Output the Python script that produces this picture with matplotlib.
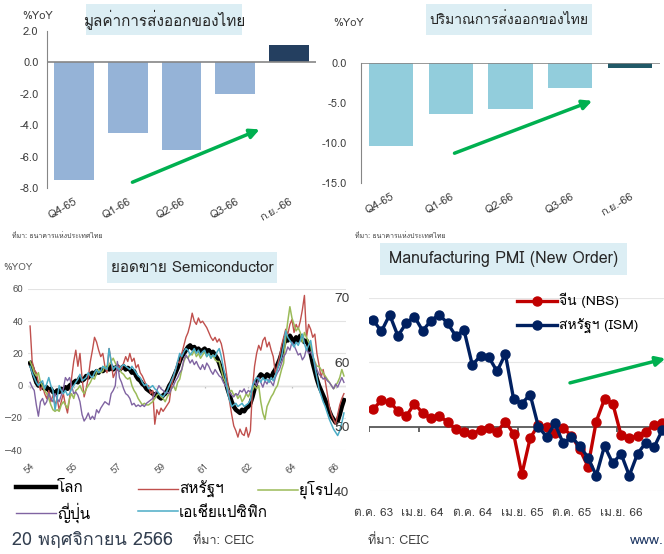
import matplotlib
matplotlib.use("Agg")
import matplotlib.pyplot as plt
from matplotlib.patches import Rectangle
import numpy as np

plt.rcParams['font.family'] = ['Loma', 'DejaVu Sans']

# ---- top panels: Thai exports ----
quarters = ["Q4-65", "Q1-66", "Q2-66", "Q3-66", "ก.ย.-66"]
export_value = [-7.5, -4.5, -5.6, -2.0, 1.1]
export_volume = [-10.4, -6.4, -5.8, -3.1, -0.6]

# ---- semiconductor sales %YoY, monthly from 2554 ----
semi_ticks = [0, 21, 42, 63, 84, 105, 126, 147]
semi_tick_labels = ["54", "55", "57", "59", "61", "62", "64", "66"]
world = [14, 11, 6, 2, 0, 1, -1, -2, -1, -3, -2, -4,
         -5, -3, -4, -2, -3, -1, -2, 0, 1, 2, 3, 2,
         5, 3, 4, 6, 5, 7, 8, 7, 9, 8, 10, 9,
         10, 11, 10, 12, 10, 11, 12, 10, 11, 12, 10, 11,
         10, 8, 9, 6, 4, 3, 1, 0, -2, -3, -4, -5,
         -6, -5, -7, -8, -6, -5, -3, 0, 2, 5, 8, 11,
         15, 18, 20, 22, 24, 25, 23, 24, 22, 23, 21, 22,
         23, 21, 22, 20, 21, 19, 17, 14, 10, 7, 3, -2,
         -6, -10, -13, -15, -16, -17, -15, -16, -14, -13, -11, -7,
         -2, 3, 5, 7, 6, 5, 7, 6, 5, 8, 10, 13,
         16, 20, 25, 30, 28, 31, 29, 27, 30, 28, 31, 29,
         27, 28, 25, 20, 14, 9, 4, 0, -3, -6, -9, -12,
         -16, -19, -21, -23, -22, -18, -13, -9]
usa = [37, 15, 10, 8, 2, -3, 0, -5, -8, -3, -10, -6,
       -12, -8, -15, -10, -5, -12, -17, -8, 5, 15, 22, 12,
       20, 5, -7, -2, 5, 15, 22, 30, 27, 22, 18, 20,
       12, 8, 23, 15, 5, 8, 10, 12, 10, 14, 18, 15,
       20, 15, 17, 11, 13, 8, 6, 3, 0, 0, -5, -3,
       -24, -15, -18, -14, -16, -14, -12, -10, 0, 5, 10, 15,
       14, 20, 25, 30, 33, 38, 45, 40, 38, 42, 39, 40,
       38, 36, 33, 30, 28, 30, 27, 29, 26, 20, 12, 3,
       -10, -18, -25, -28, -32, -27, -30, -31, -26, -32, -28, -2,
       12, 20, 25, 22, 28, 30, 24, 27, 22, 18, 8, 12,
       18, 25, 30, 35, 32, 38, 41, 33, 38, 35, 40, 47,
       56, 30, 38, 35, 30, 32, 20, 13, 5, 10, 3, -5,
       -13, -18, -21, -24, -18, -12, -8, -5]
europe = [15, 12, 8, 6, 8, 2, 0, -3, -5, -8, -12, -15,
          -16, -15, -16, -12, -10, -12, -14, -8, -5, -8, -3, -2,
          0, -3, -5, -2, 0, 2, 5, 4, 8, 10, 8, 9,
          12, 11, 13, 15, 17, 14, 12, 10, 8, 7, 5, 4,
          5, 0, -3, -5, -8, -10, -12, -11, -12, -12, -11, -10,
          -8, -6, -5, -7, -8, -10, -7, -5, -2, 0, -3, 2,
          4, 10, 15, 18, 17, 20, 19, 22, 18, 20, 17, 19,
          21, 18, 20, 17, 19, 16, 15, 15, 10, 5, 2, -1,
          -4, -3, -6, -5, -8, -6, -10, -8, -5, -7, -4, -3,
          0, -2, 0, -10, -17, -21, -13, -10, -7, -5, -2, 0,
          5, 10, 14, 30, 40, 49, 42, 38, 34, 36, 33, 27,
          33, 30, 27, 25, 18, 15, 12, 12, 10, 8, 6, 4,
          2, 0, -2, 0, 2, 5, 10, 6]
japan = [2, -1, -3, -12, -19, -10, -8, -12, -10, -5, -8, -10,
         -5, -8, -10, -6, -2, 5, 3, 5, 0, -5, -4, -6,
         -10, -18, -22, -20, -17, -21, -19, -21, -15, -17, -14, -12,
         -10, -11, -12, -5, -3, 0, 15, 5, 2, -2, -5, -6,
         -8, -12, -11, -13, -12, -13, -12, -13, -11, -10, -9, -8,
         -5, -3, 0, -2, -3, -5, -4, -5, -2, 0, 3, 5,
         8, 10, 16, 19, 17, 14, 16, 13, 15, 12, 10, 13,
         10, 14, 12, 9, 7, 10, 8, 6, 5, 2, 0, -2,
         -4, -6, -7, -5, -6, -3, -4, -2, -5, -3, -4, -1,
         3, 0, 5, 2, -1, 3, 1, 4, 2, 0, 5, 8,
         10, 14, 18, 20, 24, 22, 27, 25, 22, 19, 20, 16,
         18, 23, 20, 21, 18, 14, 10, 7, 6, 4, 5, 3,
         2, 0, -2, 1, -1, 2, 5, 2]
asia_pac = [12, 8, 5, 2, 0, 2, 3, -2, 1, 5, 0, -3,
            -15, -8, 0, -3, -5, -3, -6, -5, -2, 0, 2, 4,
            7, 3, 4, 5, 8, 6, 5, 8, 10, 8, 9, 12,
            11, 10, 23, 15, 10, 12, 11, 10, 12, 13, 12, 11,
            10, 12, 10, 8, 6, 5, 2, 0, 1, -2, -1, 0,
            -2, -3, -5, -6, -7, -5, -3, 0, 3, 6, 10, 15,
            20, 18, 21, 23, 22, 19, 21, 23, 20, 22, 19, 21,
            22, 18, 20, 17, 19, 18, 21, 23, 18, 11, 5, -4,
            -9, -13, -12, -11, -13, -12, -11, -13, -12, -11, -9, 0,
            3, 5, 4, 2, 5, 3, 4, 2, 5, 3, 6, 10,
            14, 18, 25, 34, 30, 28, 26, 24, 27, 25, 28, 32,
            26, 22, 25, 28, 20, 12, 5, -2, -6, -10, -13, -17,
            -21, -24, -27, -29, -31, -28, -23, -17]

# ---- Manufacturing PMI new orders, monthly from ต.ค. 63 ----
pmi_ticks = [0, 6, 12, 18, 24, 30]
pmi_tick_labels = ["ต.ค. 63", "เม.ย. 64", "ต.ค. 64", "เม.ย. 65", "ต.ค. 65", "เม.ย. 66"]
china_nbs = [52.7, 54.1, 53.8, 52.5, 51.6, 53.6, 52.1, 51.3, 51.6, 50.8, 49.6, 49.2,
             48.9, 49.5, 49.8, 49.2, 50.8, 48.9, 42.6, 48.2, 50.3, 50.0, 49.0, 49.8,
             48.6, 46.5, 43.8, 50.8, 54.3, 53.6, 48.7, 48.2, 48.6, 49.2, 50.3, 50.6]
us_ism = [66.6, 64.8, 67.4, 64.1, 66.1, 67.1, 64.9, 66.5, 67.4, 66.1, 64.1, 65.0,
          59.6, 61.0, 60.8, 58.6, 61.3, 54.3, 53.6, 55.0, 50.0, 48.4, 50.5, 47.4,
          48.4, 47.0, 45.2, 42.4, 47.0, 44.3, 45.8, 42.4, 45.8, 47.5, 46.8, 49.5]

W, H = 664, 554
def box(x0, y0, x1, y1):
    return [x0 / W, 1 - y1 / H, (x1 - x0) / W, (y1 - y0) / H]

fig = plt.figure(figsize=(6.64, 5.54), dpi=100)
grey_txt = '#404040'
arrow_kw = dict(arrowstyle='-|>', color='#00B050', lw=2.5, mutation_scale=14)

def title_box(x0, y0, x1, y1, text, size=11):
    fig.add_artist(Rectangle((x0 / W, 1 - y1 / H), (x1 - x0) / W, (y1 - y0) / H,
                             transform=fig.transFigure, facecolor='#DCEEF4', edgecolor='none'))
    fig.text((x0 + x1) / 2 / W, 1 - (y0 + y1) / 2 / H, text, ha='center', va='center',
             fontsize=size, color='#262626')

def bar_panel(ax, vals, light, dark, ylim, yticks):
    ax.bar(range(len(vals)), vals, width=0.74, color=[light] * (len(vals) - 1) + [dark])
    ax.set_xlim(-0.5, len(vals) - 0.5)
    ax.set_ylim(*ylim)
    ax.set_yticks(yticks)
    ax.set_yticklabels([f"{v:.1f}" for v in yticks])
    ax.set_xticks(range(len(vals)))
    ax.set_xticklabels(quarters, rotation=30, ha='right', rotation_mode='anchor')
    for s in ['top', 'right', 'bottom']:
        ax.spines[s].set_visible(False)
    ax.spines['left'].set_color('#868686')
    ax.axhline(0, color='#868686', lw=1.2)
    ax.tick_params(length=0, labelsize=8, colors=grey_txt, pad=6)
    ax.patch.set_alpha(0)

# panel 1
ax1 = fig.add_axes(box(47, 31, 316, 188))
bar_panel(ax1, export_value, '#95B3D7', '#243F60', (-8, 2), [2, 0, -2, -4, -6, -8])
ax1.annotate('', xy=(3.5, -4.2), xytext=(1.04, -7.7), arrowprops=arrow_kw)
title_box(86, 4, 242, 35, "มูลค่าการส่งออกของไทย")
fig.text(38 / W, 1 - 16 / H, "%YoY", ha='center', va='center', fontsize=8, color=grey_txt)
fig.text(12 / W, 1 - 237 / H, "ที่มา: ธนาคารแห่งประเทศไทย", ha='left', va='center', fontsize=5, color=grey_txt)

# panel 2
ax2 = fig.add_axes(box(361, 63, 660, 183))
bar_panel(ax2, export_volume, '#92CDDC', '#215968', (-15, 0), [0, -5, -10, -15])
ax2.tick_params(axis='y', pad=10)
ax2.annotate('', xy=(3.41, -4.6), xytext=(1.02, -11.4), arrowprops=arrow_kw)
title_box(426, 4, 592, 35, "ปริมาณการส่งออกของไทย", size=10)
fig.text(349 / W, 1 - 23 / H, "%YoY", ha='center', va='center', fontsize=8, color=grey_txt)
fig.text(355 / W, 1 - 237 / H, "ที่มา: ธนาคารแห่งประเทศไทย", ha='left', va='center', fontsize=5, color=grey_txt)

# panel 3
ax3 = fig.add_axes(box(28, 289, 346, 450))
months = np.arange(len(world))
l_world, = ax3.plot(months, world, color='black', lw=3.2, zorder=3)
l_us, = ax3.plot(months, usa, color='#C0504D', lw=1, zorder=3)
l_eu, = ax3.plot(months, europe, color='#9BBB59', lw=1.1, zorder=3)
l_jp, = ax3.plot(months, japan, color='#8064A2', lw=1, zorder=3)
l_ap, = ax3.plot(months, asia_pac, color='#4BACC6', lw=1.1, zorder=3)
ax3.set_xlim(-1, 152)
ax3.set_ylim(-40, 60)
ax3.set_yticks(range(-40, 61, 20))
ax3.grid(axis='y', color='#E3E3E3', lw=0.8)
ax3.axhline(0, color='#BFBFBF', lw=0.9, zorder=1)
ax3.vlines(semi_ticks, -1.5, 0, color='#BFBFBF', lw=0.9, zorder=1)
ax3.set_xticks(semi_ticks)
ax3.set_xticklabels(semi_tick_labels, rotation=45, ha='right', rotation_mode='anchor')
for s in ax3.spines.values():
    s.set_visible(False)
ax3.tick_params(length=0, labelsize=7, colors='#595959')
ax3.tick_params(axis='x', pad=8)
ax3.patch.set_alpha(0)
title_box(107, 252, 277, 283, "ยอดขาย Semiconductor")
fig.text(18 / W, 1 - 267 / H, "%YOY", ha='center', va='center', fontsize=7, color='#595959')
leg_kw = dict(frameon=False, fontsize=11, handlelength=2.6, handletextpad=0.1,
              labelspacing=0.5, borderaxespad=0, borderpad=0)
fig.legend([l_world, l_jp], ["โลก", "ญี่ปุ่น"], loc='upper left',
           bbox_to_anchor=(16 / W, 1 - 481 / H), **leg_kw)
fig.legend([l_us, l_ap], ["สหรัฐฯ", "เอเชียแปซิฟิก"], loc='upper left',
           bbox_to_anchor=(138 / W, 1 - 481 / H), **leg_kw)
fig.legend([l_eu], ["ยุโรป"], loc='upper left',
           bbox_to_anchor=(258 / W, 1 - 481 / H), **leg_kw)
fig.text(12 / W, 1 - 540 / H, "20 พฤศจิกายน 2566", ha='left', va='center', fontsize=13, color='#333F50')
fig.text(193 / W, 1 - 541 / H, "ที่มา: CEIC", ha='left', va='center', fontsize=9, color=grey_txt)

# panel 4
ax4 = fig.add_axes(box(369, 298, 664, 491))
pm = np.arange(len(us_ism))
l_cn, = ax4.plot(pm, china_nbs, color='#C00000', lw=2.4, marker='o', ms=6.5, zorder=3)
l_usi, = ax4.plot(pm, us_ism, color='#002060', lw=2.4, marker='o', ms=6.5, zorder=3)
ax4.set_xlim(-0.5, 35.2)
ax4.set_ylim(40, 70)
ax4.set_yticks([40, 50, 60, 70])
ax4.grid(axis='y', color='#E6E6E6', lw=0.8)
ax4.axhline(50, color='#595959', lw=1.3, zorder=2)
ax4.vlines(np.arange(-0.5, 36, 6), 49.2, 50, color='#595959', lw=1.3, zorder=2)
ax4.set_xticks(pmi_ticks)
ax4.set_xticklabels(pmi_tick_labels)
for s in ax4.spines.values():
    s.set_visible(False)
ax4.tick_params(length=0, labelsize=8.5, colors=grey_txt)
ax4.tick_params(axis='x', pad=12)
ax4.tick_params(axis='y', pad=14, labelsize=10)
ax4.patch.set_alpha(0)
ax4.annotate('', xy=(35.7, 60.7), xytext=(23.5, 56.7), arrowprops=arrow_kw, annotation_clip=False)
title_box(380, 243, 627, 275, "Manufacturing PMI (New Order)", size=11.5)
fig.legend([l_cn, l_usi], ["จีน (NBS)", "สหรัฐฯ (ISM)"], loc='upper left',
           bbox_to_anchor=(517 / W, 1 - 293 / H), frameon=False, fontsize=10,
           handlelength=2.9, handletextpad=0.1, labelspacing=0.75, borderaxespad=0, borderpad=0)
fig.text(368 / W, 1 - 541 / H, "ที่มา: CEIC", ha='left', va='center', fontsize=9, color=grey_txt)
fig.text(630 / W, 1 - 541 / H, "www.", ha='left', va='center', fontsize=10, color='#1F3864')

fig.savefig("out.png", dpi=100)
